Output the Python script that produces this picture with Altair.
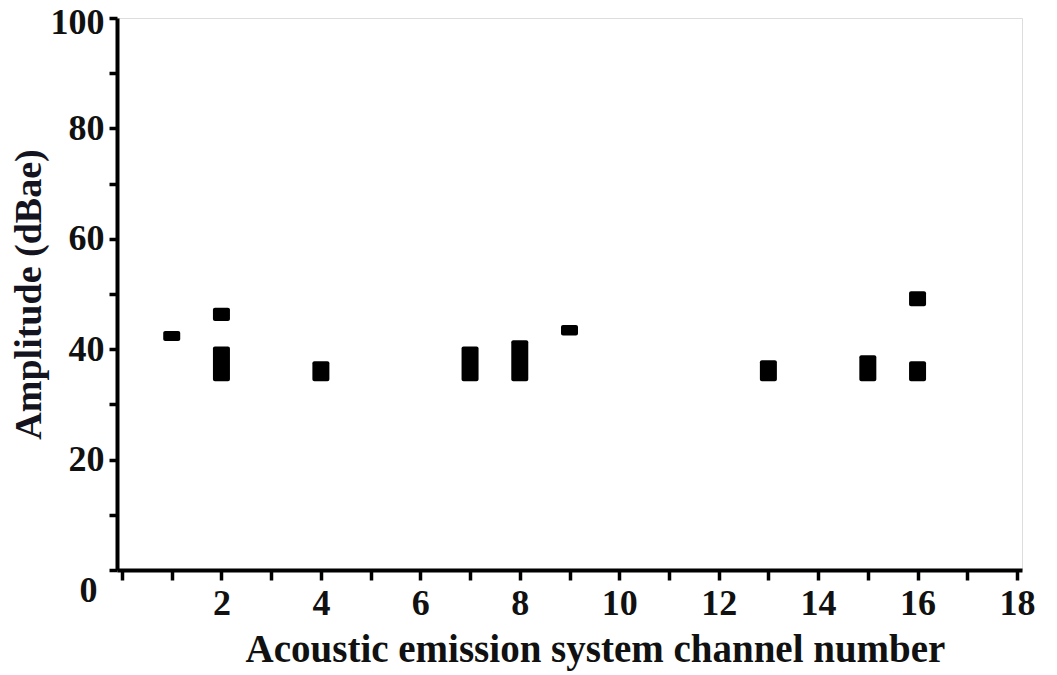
import altair as alt
import pandas as pd

channels = [1, 2, 2, 4, 7, 8, 9, 13, 15, 16, 16]
amp_low = [41.5, 45.1, 34.2, 34.2, 34.2, 34.2, 42.5, 34.2, 34.2, 34.2, 47.8]
amp_high = [43.3, 47.5, 40.5, 37.8, 40.5, 41.6, 44.4, 38.0, 38.9, 37.8, 50.5]

x_ticks = list(range(0, 19))
y_ticks = list(range(0, 101, 10))

df = pd.DataFrame({"channel": channels, "low": amp_low, "high": amp_high})

FONT = "Liberation Serif"

chart = alt.Chart(df).mark_bar(size=17, color="black", cornerRadius=2).encode(
    x=alt.X("channel:Q", scale=alt.Scale(domain=[0, 18], nice=False, zero=False),
            axis=alt.Axis(values=x_ticks,
                          labelExpr="datum.value % 2 == 0 && datum.value > 0 ? datum.label : ''",
                          title="Acoustic emission system channel number",
                          grid=False, tickSize=10, tickWidth=3.5, tickColor="black",
                          domainWidth=4, domainColor="black",
                          labelFont=FONT, labelFontSize=36, labelFontWeight="bold", labelColor="#111",
                          labelPadding=6, labelFlush=False,
                          titleFont=FONT, titleFontSize=39, titleFontWeight="bold", titleColor="#111",
                          titlePadding=9, titleX=478)),
    y=alt.Y("low:Q", scale=alt.Scale(domain=[0, 100], nice=False),
            axis=alt.Axis(values=y_ticks,
                          labelExpr="datum.value % 20 == 0 ? datum.label : ''",
                          title="Amplitude (dBae)",
                          grid=False, tickSize=8, tickWidth=3.5, tickColor="black",
                          domainWidth=4, domainColor="black",
                          labelFont=FONT, labelFontSize=36, labelFontWeight="bold", labelColor="#111",
                          labelPadding={"condition": {"test": "datum.value === 0", "value": 12}, "value": 5},
                          labelOffset={"condition": [{"test": "datum.value === 0", "value": 20},
                                                     {"test": "datum.value === 100", "value": 4}],
                                       "value": 0},
                          labelFlush=False,
                          titleFont=FONT, titleFontSize=38, titleFontWeight="bold", titleColor="#141420",
                          titlePadding=2)),
    y2="high:Q",
).properties(
    width=905, height=552,
    autosize=alt.AutoSizeParams(type="none"),
    padding={"left": 109, "top": 10, "right": 27, "bottom": 103},
).configure_view(
    stroke="black", strokeWidth=4
).configure(background="white")

chart.save("out.html", embed_options={"renderer": "svg", "actions": False})
